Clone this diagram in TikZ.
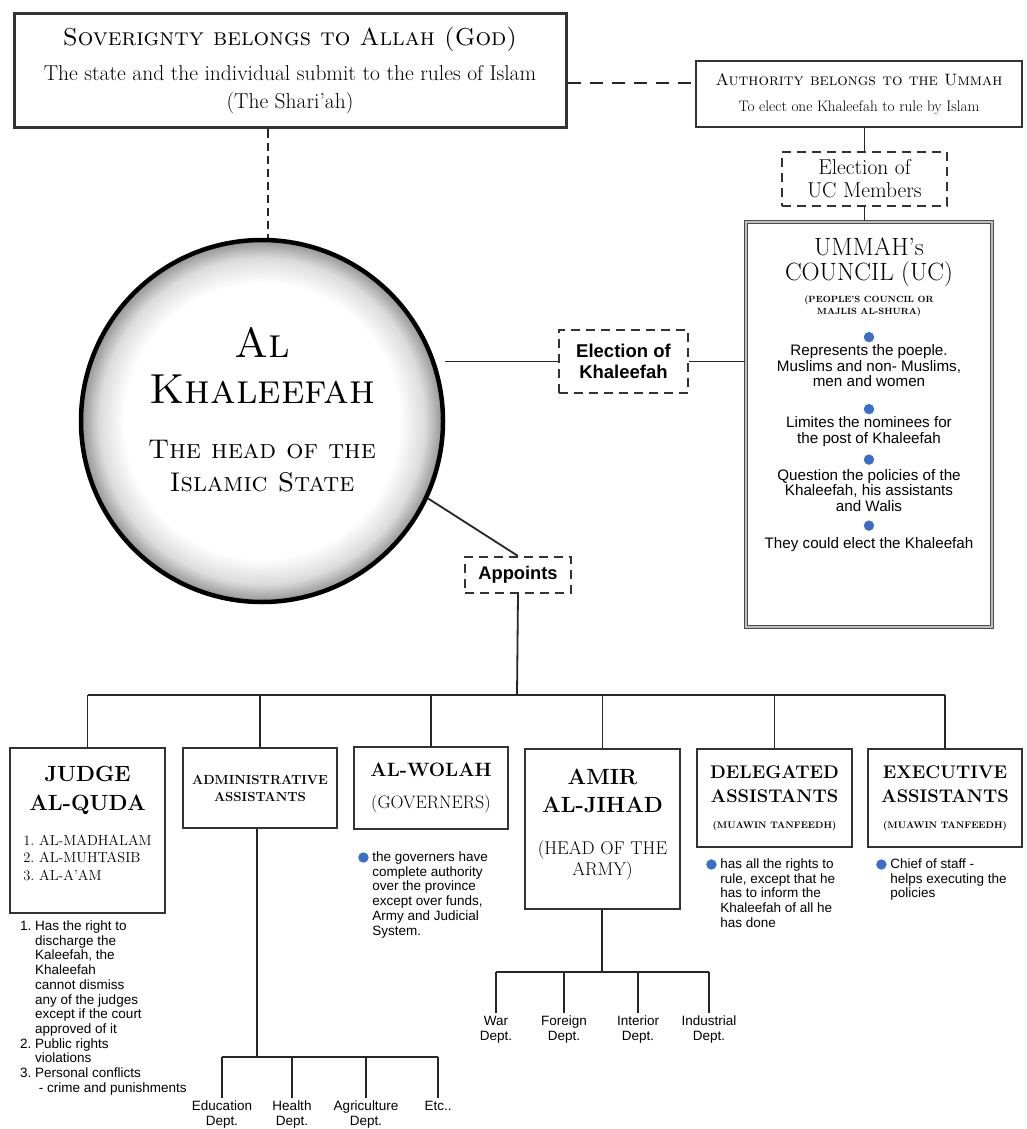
\documentclass[tikz,border=0pt]{standalone}
\usepackage{fontspec}
\setsansfont{Liberation Sans}
\usetikzlibrary{positioning}
\definecolor{dotblue}{RGB}{58,110,200}
\pgfdeclareradialshading{ringshade}{\pgfpoint{0bp}{0bp}}{color(0bp)=(white);color(19bp)=(white);color(22.5bp)=(black!14);color(24.6bp)=(black!38);color(25bp)=(black!42);color(50bp)=(black!42)}
\tikzset{
  box/.style={draw=black!80, line width=2.2pt, fill=white, inner sep=2pt, align=center},
  dashbox/.style={draw=black!80, line width=2pt, dash pattern=on 9pt off 6pt, fill=white, inner sep=3pt, align=center},
  link/.style={draw=black!85, line width=1.8pt},
  note/.style={font=\sffamily\fontsize{13.5}{14.7}\selectfont, align=left, inner sep=0pt, anchor=north west},
  dept/.style={font=\sffamily\fontsize{13.5}{15}\selectfont, align=center, anchor=north, inner sep=3pt}
}
\newcommand{\bluedot}{\tikz[baseline=-4pt]\fill[dotblue] (0pt,0pt) circle (5.2pt);}
\newcommand{\fs}[2]{\fontsize{#1}{#2}\selectfont}
\begin{document}
\begin{tikzpicture}[x=1pt,y=-1pt]
\useasboundingbox[fill=white] (0,0) rectangle (1027,1129);

% top row
\node[box, line width=3pt, minimum width=552pt, minimum height=114pt, font=\fs{21.5}{28}] (sov) at (290,71)
  {\fs{24.5}{30}\textsc{Soverignty belongs to Allah (God)}\\[7pt]
   The state and the individual submit to the rules of Islam\\
   (The Shari'ah)};
\node[box, minimum width=326pt, minimum height=66pt, font=\fs{15.2}{22}] (auth) at (859,94)
  {\fs{16.5}{24}\textsc{Authority belongs to the Ummah}\\[4pt]
   To elect one Khaleefah to rule by Islam};
\coordinate (authin) at ([yshift=11pt]auth.west);
\draw[link, dash pattern=on 13pt off 9pt] (sov.east |- authin) -- (authin);

% ummah's council
\node[dashbox, minimum width=165pt, minimum height=54pt, font=\fs{21.5}{23}] (elecuc) at (864.5,179)
  {Election of\\UC Members};
\node[box, draw=black!70, line width=1.2pt, double=black!25, double distance=1.6pt,
  minimum width=246pt, minimum height=405pt] (council) at (869,424.5) {};
\node[below=16pt of council.north, align=center, inner sep=0pt, font=\fs{25}{25}] (uctitle)
  {UMMAH's\\COUNCIL (UC)\\[-3pt]
   \fs{9}{12}\bfseries (PEOPLE'S COUNCIL OR\\[-13pt]\fs{9}{12}\bfseries MAJLIS AL-SHURA)};
\node[below=15pt of uctitle, align=center, inner sep=0pt,
  font=\sffamily\fs{15.2}{15.5}] (ucbody)
  {\bluedot\\[-1pt]Represents the poeple.\\Muslims and non- Muslims,\\men and women\\[11pt]
   \bluedot\\[-1pt]Limites the nominees for\\the post of Khaleefah\\[5pt]
   \bluedot\\[1pt]Question the policies of the\\Khaleefah, his assistants\\and Walis\\[3pt]
   \bluedot\\[3pt]They could elect the Khaleefah};
\draw[link] (auth.south -| elecuc) -- (elecuc.north);
\draw[link] (elecuc.south) -- (council.north -| elecuc);

% the khaleefah
\node[circle, draw=black, line width=4.5pt, minimum size=362pt, shading=ringshade] (khal) at (262,421) {};
\node[align=center, font=\fs{42}{46}] (khaltext) at (262,410)
  {\textsc{Al}\\\textsc{Khaleefah}\\[9pt]
   \fs{27}{33}\textsc{The head of the}\\[-13pt]\fs{27}{33}\textsc{Islamic State}};
\draw[link, dash pattern=on 8pt off 5pt] (sov.south -| 268,0) -- (khal.north -| 268,0);
\node[dashbox, font=\sffamily\bfseries\fs{18.5}{21}, minimum width=129pt, minimum height=63pt] (eleck) at (623.5,361.5)
  {Election of\\Khaleefah};
\draw[link] (khal.east |- eleck) -- (eleck.west);
\draw[link] (eleck.east) -- (council.west |- eleck);
\node[dashbox, font=\sffamily\bfseries\fs{18.3}{21}, minimum width=106pt, minimum height=36pt] (appoints) at (518,575) {Appoints};
\draw[link] (khal.-25) -- (appoints.north);

% appointed offices
\node[box, minimum width=155pt, minimum height=165pt, anchor=north, font=\bfseries\fs{22}{29}] (judge) at (87.5,747)
  {JUDGE\\AL-QUDA\\[17pt]
   \mdseries\fs{14.5}{17.5}\begin{tabular}{@{}l@{}}1.\ AL-MADHALAM\\2.\ AL-MUHTASIB\\3.\ AL-A'AM\end{tabular}\\[3pt]};
\node[box, minimum width=154pt, minimum height=80pt, anchor=north, font=\bfseries\fs{13.2}{17}] (admin) at (260,747)
  {ADMINISTRATIVE\\ASSISTANTS};
\node[box, minimum width=154pt, minimum height=82pt, anchor=north, font=\bfseries\fs{19.3}{24}] (wolah) at (431,746)
  {AL-WOLAH\\[8pt]\fs{18}{22}\mdseries (GOVERNERS)};
\node[box, minimum width=155pt, minimum height=160pt, anchor=north, font=\bfseries\fs{22}{28}] (amir) at (602.5,748)
  {AMIR\\AL-JIHAD\\[14pt]
   \fs{18.5}{21}\mdseries (HEAD OF THE\\[-7pt]\fs{18.5}{21}\mdseries ARMY)\\[-14pt]};
\node[box, minimum width=155pt, minimum height=98pt, anchor=north, font=\bfseries\fs{18.3}{24}] (deleg) at (774.5,748)
  {DELEGATED\\ASSISTANTS\\[2pt]\fs{9.5}{12}(MUAWIN TANFEEDH)};
\node[box, minimum width=154pt, minimum height=98pt, anchor=north, font=\bfseries\fs{18.3}{24}] (exec) at (945,748)
  {EXECUTIVE\\ASSISTANTS\\[2pt]\fs{9.5}{12}(MUAWIN TANFEEDH)};

\coordinate (bus) at (517,695);
\draw[link] (appoints.south) -- (bus);
\draw[link] (judge.north |- bus) -- (exec.north |- bus);
\foreach \office in {judge,admin,wolah,amir,deleg,exec}
  \draw[link] (\office.north |- bus) -- (\office.north);

% notes
\node[note] (judgenote) at (20,920)
  {\begin{tabular}{@{}l@{\ }l@{}}
   1. & Has the right to\\ & discharge the\\ & Kaleefah, the\\ & Khaleefah\\ & cannot dismiss\\
      & any of the judges\\ & except if the court\\ & approved of it\\
   2. & Public rights\\ & violations\\
   3. & Personal conflicts\\ & \ - crime and punishments
   \end{tabular}};
\node[note] (wolahnote) at (358,851)
  {\begin{tabular}{@{}l@{\ }l@{}}
   \bluedot & the governers have\\ & complete authority\\ & over the province\\
   & except over funds,\\ & Army and Judicial\\ & System.
   \end{tabular}};
\node[note] (delegnote) at (706,858)
  {\begin{tabular}{@{}l@{\ }l@{}}
   \bluedot & has all the rights to\\ & rule, except that he\\ & has to inform the\\
   & Khaleefah of all he\\ & has done
   \end{tabular}};
\node[note] (execnote) at (876,858)
  {\begin{tabular}{@{}l@{\ }l@{}}
   \bluedot & Chief of staff -\\ & helps executing the\\ & policies
   \end{tabular}};

% administrative departments
\coordinate (abus) at (257,1057);
\draw[link] (admin.south -| abus) -- (abus);
\node[dept] (edu) at (222,1098) {Education\\Dept.};
\node[dept] (health) at (292,1098) {Health\\Dept.};
\node[dept] (agri) at (366,1098) {Agriculture\\Dept.};
\node[dept] (etc) at (438,1098) {Etc..};
\draw[link] (edu.north |- abus) -- (etc.north |- abus);
\foreach \dep in {edu,health,agri,etc}
  \draw[link] (\dep.north |- abus) -- (\dep.north);

% army departments
\coordinate (jbus) at (602,972);
\draw[link] (amir.south -| jbus) -- (jbus);
\node[dept] (war) at (496,1013) {War\\Dept.};
\node[dept] (foreign) at (564,1013) {Foreign\\Dept.};
\node[dept] (interior) at (638,1013) {Interior\\Dept.};
\node[dept] (industry) at (709,1013) {Industrial\\Dept.};
\draw[link] (war.north |- jbus) -- (industry.north |- jbus);
\foreach \dep in {war,foreign,interior,industry}
  \draw[link] (\dep.north |- jbus) -- (\dep.north);
\end{tikzpicture}
\end{document}
